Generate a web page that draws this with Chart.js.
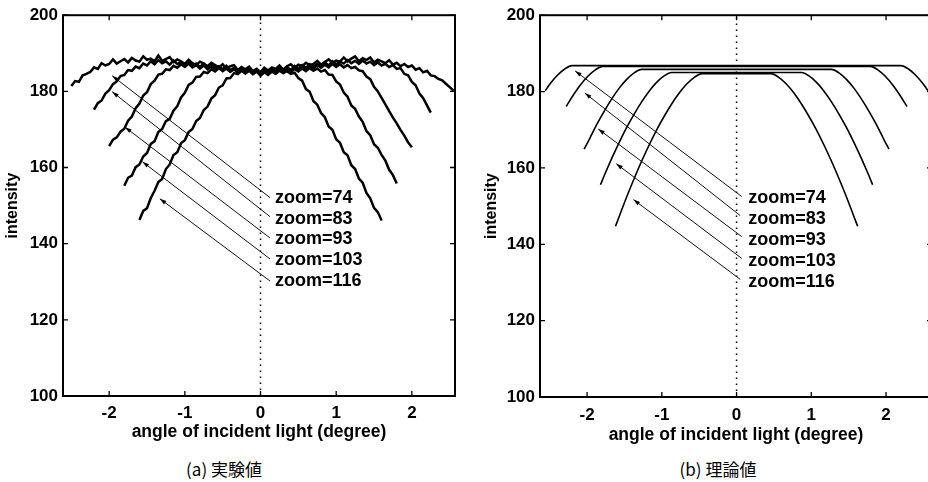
<!DOCTYPE html>
<html>
<head>
<meta charset="utf-8">
<script src="https://cdn.jsdelivr.net/npm/chart.js@4.4.1/dist/chart.umd.min.js"></script>
<style>
  html, body { margin: 0; padding: 0; background: #fff; }
  body { width: 928px; height: 482px; overflow: hidden; position: relative; }
  .panel { position: absolute; top: 0; width: 470px; height: 452px; }
  #leftPanel { left: 0; }
  #rightPanel { left: 470px; }
  .caption { position: absolute; top: 459px; line-height: 20px; font-size: 17px;
             font-family: "Noto Sans CJK JP", sans-serif; color: #000;
             white-space: nowrap; transform: translateX(-50%); }
</style>
</head>
<body>
<div class="panel" id="leftPanel"><canvas id="expChart" width="470" height="452"></canvas></div>
<div class="panel" id="rightPanel"><canvas id="theoryChart" width="470" height="452"></canvas></div>
<div class="caption" style="left:224px">(a) 実験値</div>
<div class="caption" style="left:718px">(b) 理論値</div>

<script>
// ==================== DATA ====================

const xTicks = [-2, -1, 0, 1, 2];
const yTicks = [100, 120, 140, 160, 180, 200];
const zoomLabels = ['zoom=74', 'zoom=83', 'zoom=93', 'zoom=103', 'zoom=116'];

// measured angles (degree), shared by the measured curves
const angleGrid = [
  -2.55, -2.5, -2.45, -2.4, -2.35, -2.3, -2.25, -2.2, -2.15, -2.1, -2.05,
  -2, -1.95, -1.9, -1.85, -1.8, -1.75, -1.7, -1.65, -1.6, -1.55,
  -1.5, -1.45, -1.4, -1.35, -1.3, -1.25, -1.2, -1.15, -1.1, -1.05,
  -1, -0.95, -0.9, -0.85, -0.8, -0.75, -0.7, -0.65, -0.6, -0.55,
  -0.5, -0.45, -0.4, -0.35, -0.3, -0.25, -0.2, -0.15, -0.1, -0.05,
  0, 0.05, 0.1, 0.15, 0.2, 0.25, 0.3, 0.35, 0.4, 0.45,
  0.5, 0.55, 0.6, 0.65, 0.7, 0.75, 0.8, 0.85, 0.9, 0.95,
  1, 1.05, 1.1, 1.15, 1.2, 1.25, 1.3, 1.35, 1.4, 1.45,
  1.5, 1.55, 1.6, 1.65, 1.7, 1.75, 1.8, 1.85, 1.9, 1.95,
  2, 2.05, 2.1, 2.15, 2.2, 2.25, 2.3, 2.35, 2.4, 2.45,
  2.5, 2.55
];

// (a) measured intensity, each curve starts at the given angle
const exp74Start = -2.5;
const exp74 = [
  181.4, 182.7, 182.5, 184.2, 184.6, 185.1, 186.3, 185.9, 187.4, 186.8,
  187.2, 188.4, 187.3, 187.9, 188.5, 187.6, 188.8, 188.1, 187.8, 189.2,
  188.3, 188.6, 187.9, 189.4, 188.0, 188.5, 189.0, 187.7, 188.4, 187.9,
  187.2, 188.3, 187.4, 186.9, 187.8, 187.3, 186.6, 187.5, 186.9, 186.3,
  187.1, 186.0, 186.6, 186.9, 185.6, 186.4, 185.8, 186.5, 185.3, 185.9,
  185.0, 186.2, 185.5, 186.3, 185.9, 186.8, 185.7, 186.6, 187.1, 186.2,
  187.0, 186.6, 187.5, 186.9, 187.2, 188.0, 187.0, 187.7, 188.4, 187.5,
  188.1, 187.8, 188.9, 187.9, 188.6, 189.2, 187.9, 188.7, 188.2, 188.9,
  187.6, 188.3, 187.9, 187.4, 188.2, 187.0, 187.5, 186.6, 187.2, 186.4,
  186.8, 185.7, 186.1, 185.0, 185.4, 184.2, 184.0, 183.3, 182.9, 182.0,
  181.1, 180.2
];
const exp83Start = -2.2;
const exp83 = [
  175.2, 176.9, 177.6, 179.4, 180.3, 181.9, 182.6, 184.0, 184.3, 185.6,
  185.4, 186.5, 186.1, 187.3, 186.8, 187.9, 187.1, 188.2, 187.4, 187.9,
  187.0, 188.1, 187.2, 187.6, 186.8, 187.7, 186.7, 187.3, 186.4, 187.3,
  186.2, 187.0, 186.3, 186.6, 185.8, 186.7, 185.6, 186.2, 185.3, 186.1,
  185.2, 185.8, 184.9, 185.7, 184.7, 185.6, 185.0, 185.9, 185.3, 186.0,
  185.5, 186.4, 185.6, 186.7, 186.0, 186.9, 186.2, 187.1, 186.5, 187.2,
  186.6, 187.6, 186.8, 187.9, 187.1, 187.8, 187.3, 188.2, 187.4, 188.0,
  187.2, 188.1, 187.3, 187.8, 186.9, 187.6, 186.8, 187.2, 186.4, 186.9,
  185.9, 186.1, 184.6, 184.2, 182.5, 181.6, 179.4, 178.2, 176.3, 174.4
];
const exp93Start = -2;
const exp93 = [
  165.6, 167.3, 167.9, 169.4, 170.2, 172.3, 173.4, 175.6, 176.8, 178.9,
  179.8, 181.9, 182.8, 184.4, 184.6, 185.8, 185.6, 186.7, 186.2, 187.1,
  186.4, 187.3, 186.3, 186.9, 186.0, 186.8, 185.8, 186.6, 185.7, 186.4,
  185.5, 186.2, 185.4, 185.9, 185.1, 185.8, 184.8, 185.6, 184.7, 185.4,
  184.5, 185.5, 184.8, 185.6, 185.0, 185.9, 185.2, 186.1, 185.4, 186.3,
  185.6, 186.5, 185.8, 186.7, 186.0, 186.9, 186.2, 187.0, 186.3, 187.2,
  186.4, 187.1, 186.3, 186.9, 186.1, 186.4, 185.5, 185.3, 183.9, 183.2,
  181.2, 180.0, 178.3, 176.6, 174.8, 173.1, 171.6, 169.9, 168.4, 166.6,
  165.3
];
const exp103Start = -1.8;
const exp103 = [
  155.2, 157.3, 157.9, 160.1, 160.8, 162.9, 163.8, 166.2, 166.9, 169.3,
  170.1, 172.2, 172.8, 174.9, 176.1, 178.4, 179.6, 181.7, 182.3, 183.8,
  183.9, 185.1, 184.8, 185.8, 185.2, 186.1, 185.3, 186.0, 185.1, 185.8,
  184.9, 185.7, 184.8, 185.5, 184.6, 185.3, 184.3, 185.2, 184.5, 185.4,
  184.7, 185.6, 184.9, 185.8, 185.0, 185.9, 185.2, 186.0, 185.3, 186.1,
  185.4, 186.0, 185.2, 185.6, 184.4, 184.3, 182.6, 181.8, 179.7, 178.6,
  176.3, 175.4, 173.4, 172.0, 169.6, 168.5, 166.1, 165.2, 163.3, 161.8,
  159.4, 158.0, 155.8
];
const exp116Start = -1.6;
const exp116 = [
  146.2, 148.6, 149.3, 152.0, 153.9, 156.2, 157.0, 159.6, 160.8, 163.3,
  164.0, 166.4, 167.2, 169.3, 170.1, 172.2, 173.0, 175.1, 176.0, 178.1,
  179.0, 181.0, 181.6, 183.4, 183.5, 184.8, 184.5, 185.4, 184.7, 185.5,
  184.5, 185.2, 184.1, 185.0, 184.3, 185.2, 184.6, 185.4, 184.8, 185.3,
  184.6, 184.9, 183.5, 182.8, 180.6, 179.9, 177.4, 176.5, 174.3, 173.2,
  170.8, 169.9, 167.4, 166.5, 164.0, 163.2, 160.6, 159.6, 157.1, 156.0,
  153.3, 151.9, 149.4, 148.3, 146.1
];

// (b) theoretical intensity
const th74X = [-2.56, -2.5, -2.4, -2.3, -2.2, 2.2, 2.3, 2.4, 2.5, 2.6];
const th74Y = [180.2, 181.9, 184.2, 185.9, 186.8, 186.8, 185.9, 184.2, 181.9, 179.1];
const th83X = [-2.28, -2.19, -2.09, -1.99, -1.89, -1.79, 1.79, 1.89, 1.99, 2.09, 2.19, 2.28];
const th83Y = [176.1, 178.9, 181.7, 184.0, 185.7, 186.6, 186.6, 185.7, 184.0, 181.7, 178.9, 176.1];
const th93X = [-2.04, -1.97, -1.87, -1.77, -1.67, -1.57, -1.47, -1.37, -1.27,
               1.27, 1.37, 1.47, 1.57, 1.67, 1.77, 1.87, 1.97, 2.04];
const th93Y = [164.9, 167.5, 171.4, 174.9, 178.1, 180.9, 183.2, 184.9, 185.8,
               185.8, 184.9, 183.2, 180.9, 178.1, 174.9, 171.4, 167.5, 164.9];
const th103X = [-1.82, -1.77, -1.67, -1.57, -1.47, -1.37, -1.27, -1.17, -1.07, -0.97, -0.87,
                0.87, 0.97, 1.07, 1.17, 1.27, 1.37, 1.47, 1.57, 1.67, 1.77, 1.82];
const th103Y = [155.6, 158.0, 162.5, 166.7, 170.6, 174.1, 177.3, 180.1, 182.4, 184.1, 185.0,
                185.0, 184.1, 182.4, 180.1, 177.3, 174.1, 170.6, 166.7, 162.5, 158.0, 155.6];
const th116X = [-1.62, -1.56, -1.46, -1.36, -1.26, -1.16, -1.06, -0.96, -0.86, -0.76, -0.66, -0.56, -0.46,
                0.46, 0.56, 0.66, 0.76, 0.86, 0.96, 1.06, 1.16, 1.26, 1.36, 1.46, 1.56, 1.62];
const th116Y = [144.7, 147.8, 152.9, 157.7, 162.2, 166.4, 170.3, 173.8, 177.0, 179.8, 182.1, 183.8, 184.7,
                184.7, 183.8, 182.1, 179.8, 177.0, 173.8, 170.3, 166.4, 162.2, 157.7, 152.9, 147.8, 144.7];

// annotation arrows (tip at the curve, tail at the label) and label positions
const expTipX = [-1.96, -1.96, -1.79, -1.56, -1.33];
const expTipY = [184.1, 179.9, 170.6, 161.5, 151.8];
const expTailX = [0.125, 0.125, 0.125, 0.125, 0.125];
const expTailY = [152.1, 147.1, 141.5, 136.0, 130.2];
const expLabelX = 0.19;
const expLabelY = [151.9, 146.6, 141.1, 135.7, 130.2];

const thTipX = [-2.16, -2.03, -1.85, -1.61, -1.38];
const thTipY = [185.4, 179.6, 170.2, 161.1, 151.7];
const thTailX = [0.07, 0.05, 0.07, 0.07, 0.05];
const thTailY = [152.5, 147.5, 142.0, 136.3, 130.8];
const thLabelX = 0.155;
const thLabelY = [152.0, 146.5, 141.0, 135.5, 130.0];

// ==================== CHART HELPERS ====================

const FONT = '"Liberation Sans", Arial, Helvetica, sans-serif';

function measuredDataset(start, ys) {
    let i0 = angleGrid.indexOf(start);
    return {
        data: ys.map((y, k) => ({ x: angleGrid[i0 + k], y: y })),
        borderColor: '#000', borderWidth: 2.5, pointRadius: 0, tension: 0
    };
}

function theoryDataset(xs, ys) {
    return {
        data: xs.map((x, k) => ({ x: x, y: ys[k] })),
        borderColor: '#000', borderWidth: 1.6, pointRadius: 0,
        cubicInterpolationMode: 'monotone'
    };
}

function arrowDatasets(tipX, tipY, tailX, tailY) {
    return tipX.map((x, i) => ({
        data: [{ x: x, y: tipY[i] }, { x: tailX[i], y: tailY[i] }],
        borderColor: '#111', borderWidth: 1, pointRadius: 0, arrow: true
    }));
}

function zeroLine() {
    return {
        data: [{ x: 0, y: 100 }, { x: 0, y: 200 }],
        borderColor: '#000', borderWidth: 1.5, borderDash: [1.5, 4.5], pointRadius: 0
    };
}

// frame, inward ticks, arrow heads and zoom labels
const panelDecor = {
    id: 'panelDecor',
    afterDatasetsDraw(chart, args, opts) {
        let ctx = chart.ctx;
        let a = chart.chartArea;
        let x = chart.scales.x, y = chart.scales.y;
        ctx.save();
        ctx.strokeStyle = '#000';
        ctx.fillStyle = '#000';

        ctx.lineWidth = 2;
        ctx.strokeRect(a.left, a.top, a.right - a.left, a.bottom - a.top);

        ctx.lineWidth = 1.3;
        ctx.beginPath();
        xTicks.forEach(v => {
            let px = x.getPixelForValue(v);
            ctx.moveTo(px, a.bottom); ctx.lineTo(px, a.bottom - 5);
            ctx.moveTo(px, a.top); ctx.lineTo(px, a.top + 5);
        });
        yTicks.forEach(v => {
            let py = y.getPixelForValue(v);
            ctx.moveTo(a.left, py); ctx.lineTo(a.left + 5, py);
            ctx.moveTo(a.right, py); ctx.lineTo(a.right - 5, py);
        });
        ctx.stroke();

        chart.data.datasets.forEach((ds, i) => {
            if (!ds.arrow) return;
            let pts = chart.getDatasetMeta(i).data;
            let tip = pts[0], tail = pts[1];
            let ang = Math.atan2(tip.y - tail.y, tip.x - tail.x);
            ctx.beginPath();
            ctx.moveTo(tip.x, tip.y);
            ctx.lineTo(tip.x - 7 * Math.cos(ang - 0.3), tip.y - 7 * Math.sin(ang - 0.3));
            ctx.lineTo(tip.x - 7 * Math.cos(ang + 0.3), tip.y - 7 * Math.sin(ang + 0.3));
            ctx.closePath();
            ctx.fill();
        });

        ctx.font = 'bold 18px ' + FONT;
        ctx.textBaseline = 'middle';
        ctx.textAlign = 'left';
        opts.labelY.forEach((v, i) => {
            ctx.fillText(zoomLabels[i], x.getPixelForValue(opts.labelX), y.getPixelForValue(v));
        });
        ctx.restore();
    }
};

function makePanel(canvasId, datasets, cfg) {
    let ctx = document.getElementById(canvasId).getContext('2d');
    return new Chart(ctx, {
        type: 'line',
        data: { datasets: datasets },
        options: {
            responsive: false,
            animation: false,
            events: [],
            layout: { padding: { left: 0, top: cfg.top, right: cfg.right, bottom: 0 } },
            plugins: {
                legend: { display: false },
                tooltip: { enabled: false },
                panelDecor: { labelX: cfg.labelX, labelY: cfg.labelY }
            },
            scales: {
                x: {
                    type: 'linear', min: cfg.xMin, max: cfg.xMax,
                    afterBuildTicks: s => { s.ticks = xTicks.map(v => ({ value: v })); },
                    afterFit: s => { s.height = cfg.xHeight; },
                    grid: { display: false, drawTicks: false },
                    border: { display: false },
                    ticks: { font: { family: FONT, size: 17, weight: 'bold' }, color: '#000',
                             padding: cfg.xPad, maxRotation: 0, autoSkip: false },
                    title: { display: true, text: 'angle of incident light (degree)', color: '#000',
                             font: { family: FONT, size: 17.5, weight: 'bold' },
                             padding: { top: 0, bottom: cfg.xTitlePad } }
                },
                y: {
                    type: 'linear', min: 100, max: 200,
                    afterBuildTicks: s => { s.ticks = yTicks.map(v => ({ value: v })); },
                    afterFit: s => { s.width = cfg.yWidth; },
                    grid: { display: false, drawTicks: false },
                    border: { display: false },
                    ticks: { font: { family: FONT, size: 17, weight: 'bold' }, color: '#000',
                             padding: 5, autoSkip: false },
                    title: { display: true, text: 'intensity', color: '#000',
                             font: { family: FONT, size: 16, weight: 'bold' },
                             padding: { top: cfg.yTitlePad, bottom: 0 } }
                }
            }
        },
        plugins: [panelDecor]
    });
}

// ==================== (a) 実験値 ====================
makePanel('expChart', [
    zeroLine(),
    measuredDataset(exp74Start, exp74),
    measuredDataset(exp83Start, exp83),
    measuredDataset(exp93Start, exp93),
    measuredDataset(exp103Start, exp103),
    measuredDataset(exp116Start, exp116)
].concat(arrowDatasets(expTipX, expTipY, expTailX, expTailY)), {
    top: 12, right: 15, xMin: -2.61, xMax: 2.57,
    xHeight: 56, yWidth: 63, xPad: 7, xTitlePad: 9, yTitlePad: 3,
    labelX: expLabelX, labelY: expLabelY
});

// ==================== (b) 理論値 ====================
makePanel('theoryChart', [
    zeroLine(),
    theoryDataset(th74X, th74Y),
    theoryDataset(th83X, th83Y),
    theoryDataset(th93X, th93Y),
    theoryDataset(th103X, th103Y),
    theoryDataset(th116X, th116Y)
].concat(arrowDatasets(thTipX, thTipY, thTailX, thTailY)), {
    top: 14, right: 8, xMin: -2.63, xMax: 2.615,
    xHeight: 55, yWidth: 70, xPad: 8, xTitlePad: 6, yTitlePad: 12,
    labelX: thLabelX, labelY: thLabelY
});
</script>
</body>
</html>
